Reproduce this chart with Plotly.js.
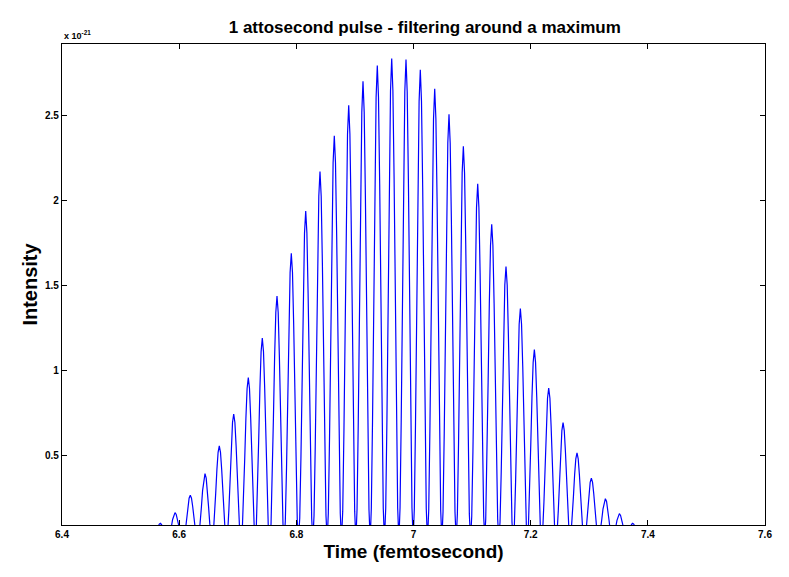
<!DOCTYPE html>
<html><head><meta charset="utf-8">
<script src="https://cdn.plot.ly/plotly-3.0.1.min.js"></script>
<style>body{margin:0;background:#fff}#chart{width:789px;height:577px}</style>
</head><body><div id="chart"></div>
<script>
// Peak times (femtosecond) and peak intensities (units of 1e-21)
const peakTimes = [6.5678, 6.5929, 6.6190, 6.6441, 6.6685, 6.6931, 6.7180, 6.7419, 6.7670, 6.7914,
  6.8160, 6.8404, 6.8648, 6.8894, 6.9138, 6.9382, 6.9628, 6.9872, 7.0116, 7.0362,
  7.0606, 7.0851, 7.1096, 7.1335, 7.1579, 7.1824, 7.2063, 7.2308, 7.2553, 7.2791,
  7.3036, 7.3275, 7.3514, 7.3742];
const peakHeights = [0.100, 0.163, 0.265, 0.392, 0.555, 0.743, 0.957, 1.190, 1.437, 1.688,
  1.937, 2.170, 2.380, 2.560, 2.700, 2.794, 2.835, 2.829, 2.768, 2.657,
  2.506, 2.318, 2.098, 1.859, 1.610, 1.363, 1.122, 0.896, 0.692, 0.514,
  0.365, 0.245, 0.157, 0.100];
// Shape of one pulse (time offset in fs, fraction of its peak), read from a single peak
const pulseOffsets = [-0.01224, -0.0102, -0.00816, -0.00612, -0.00408, -0.00204, 0,
  0.00204, 0.00408, 0.00612, 0.00816, 0.0102, 0.01224];
const pulseShape = [0, 0.067, 0.25, 0.5, 0.75, 0.933, 1, 0.933, 0.75, 0.5, 0.25, 0.067, 0];
const xTickVals = [6.4, 6.6, 6.8, 7, 7.2, 7.4, 7.6];
const xTickText = ['6.4', '6.6', '6.8', '7', '7.2', '7.4', '7.6'];
const yTickVals = [0.5, 1, 1.5, 2, 2.5];
const yTickText = ['0.5', '1', '1.5', '2', '2.5'];

const xs = [], ys = [];
peakTimes.forEach((t, i) => {
  pulseOffsets.forEach((o, j) => {
    xs.push(t + o);
    ys.push(peakHeights[i] * pulseShape[j]);
  });
});

const fam = 'Liberation Sans, Arial, sans-serif';
const tickFont = {family: fam, size: 10, color: '#000', weight: 'bold'};
const layout = {
  width: 789, height: 577,
  margin: {l: 62, r: 24, t: 44, b: 52},
  paper_bgcolor: '#fff', plot_bgcolor: '#fff',
  showlegend: false,
  title: {text: '1 attosecond pulse - filtering around a maximum',
    font: {family: fam, size: 17, color: '#000', weight: 'bold'},
    x: 0.516, xref: 'paper', xanchor: 'center', y: 0.953, yanchor: 'middle'},
  xaxis: {range: [6.4, 7.6], tickvals: xTickVals, ticktext: xTickText,
    ticks: 'inside', ticklen: 5, tickcolor: '#000', tickwidth: 1,
    showline: true, linecolor: '#000', linewidth: 1.2, mirror: 'ticks',
    showgrid: false, zeroline: false, tickfont: tickFont,
    title: {text: 'Time (femtosecond)', standoff: 5,
      font: {family: fam, size: 19, color: '#000', weight: 'bold'}}},
  yaxis: {range: [0.09, 2.92], tickvals: yTickVals, ticktext: yTickText,
    ticks: 'inside', ticklen: 5, tickcolor: '#000', tickwidth: 1,
    showline: true, linecolor: '#000', linewidth: 1.2, mirror: 'ticks',
    showgrid: false, zeroline: false, tickfont: tickFont,
    title: {text: 'Intensity', standoff: 1,
      font: {family: fam, size: 20, color: '#000', weight: 'bold'}}},
  annotations: [{text: 'x 10<sup>-21</sup>', xref: 'paper', yref: 'paper', x: 0, y: 1,
    xanchor: 'left', yanchor: 'bottom', showarrow: false, yshift: 1,
    font: {family: fam, size: 9, color: '#000', weight: 'bold'}}]
};
Plotly.newPlot('chart', [{x: xs, y: ys, type: 'scatter', mode: 'lines',
  line: {color: '#0000ff', width: 1.2}, hoverinfo: 'skip'}], layout,
  {staticPlot: true, displayModeBar: false});
</script></body></html>
